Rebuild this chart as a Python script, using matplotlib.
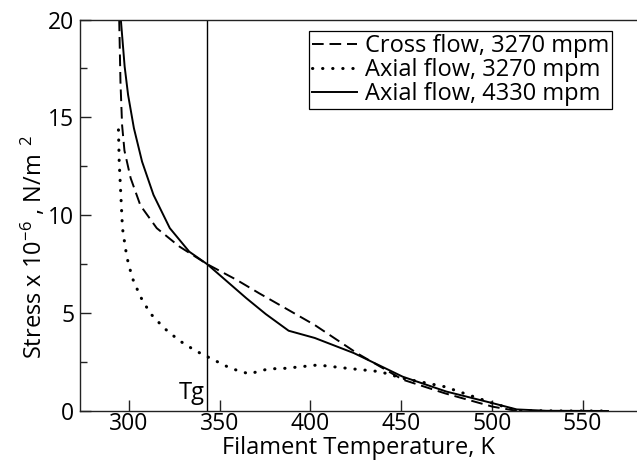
import matplotlib
matplotlib.use("Agg")
import matplotlib.pyplot as plt
from matplotlib.ticker import MultipleLocator

plt.rcParams["font.family"] = ["Open Sans", "DejaVu Sans"]
plt.rcParams["mathtext.fontset"] = "custom"
plt.rcParams["mathtext.rm"] = "Open Sans"
plt.rcParams["mathtext.it"] = "Open Sans"
plt.rcParams["mathtext.sf"] = "Open Sans"

# ── data ────────────────────────────────────────────────────────────────────
T_cross = [294.6, 295.3, 296.2, 297.5, 300.9, 306.3, 315.3, 327.8, 343.1,
           359.3, 371.8, 386.2, 402.4, 425.7, 450.9, 474.2, 500.4, 511, 516]
S_cross = [20.0, 16.8, 14.6, 13.3, 11.9, 10.5, 9.34, 8.4, 7.5,
           6.7, 6.01, 5.25, 4.39, 2.95, 1.6, 0.9, 0.22, 0.05, 0.0]

T_ax3270 = [294.2, 294.6, 295.5, 296.4, 298.2, 299.1, 301.8, 306.3, 311.7,
            319.4, 327.8, 336.8, 346.7, 356.0, 366.4, 371.8, 377.2, 386.2,
            404.1, 420.3, 438.3, 450.9, 474.0, 500.4, 514.0, 540.0, 564.0]
S_ax3270 = [14.36, 12.74, 11.04, 9.34, 8.23, 7.76, 6.8, 5.84, 4.99,
            4.23, 3.59, 3.07, 2.61, 2.18, 1.89, 2.04, 2.15, 2.18,
            2.35, 2.18, 2.01, 1.67, 1.24, 0.4, 0.02, 0.0, 0.0]

T_ax4330 = [295.5, 297.6, 299.5, 302.7, 307.2, 313.5, 322.5, 333.2, 343.1,
            364.7, 375.4, 388.0, 402.4, 423.9, 450.9, 475.0, 500.4, 513.7,
            530.0, 564.0]
S_ax4330 = [20.0, 17.6, 16.15, 14.45, 12.74, 11.04, 9.34, 8.14, 7.5,
            5.76, 4.95, 4.1, 3.73, 2.96, 1.75, 0.99, 0.4, 0.08,
            0.01, 0.0]

T_g = 343.0
labels = ["Cross flow, 3270 mpm", "Axial flow, 3270 mpm", "Axial flow, 4330 mpm"]

fig = plt.figure(figsize=(6.37, 4.61), dpi=100)
ax = fig.add_axes([0.1256, 0.1085, 0.8744, 0.8492])

ax.plot(T_cross, S_cross, color="black", lw=1.4, linestyle=(0, (6, 3)),
        label=labels[0])
ax.plot(T_ax3270, S_ax3270, color="black", lw=2.2, linestyle=(0, (0.1, 3.2)),
        dash_capstyle="round", label=labels[1])
ax.plot(T_ax4330, S_ax4330, color="black", lw=1.4, linestyle="-",
        label=labels[2])

ax.axvline(T_g, color="black", lw=1.0)
ax.text(T_g - 1.5, 0.3, "Tg", ha="right", va="bottom", fontsize=17)

ax.set_xlim(273, 580)
ax.set_ylim(0, 20)
ax.xaxis.set_major_locator(MultipleLocator(50))
ax.yaxis.set_major_locator(MultipleLocator(5))
ax.yaxis.set_minor_locator(MultipleLocator(2.5))
ax.tick_params(which="both", direction="in", labelsize=16.5, color="#222")
ax.tick_params(which="major", length=8, width=1.0, pad=4)
ax.tick_params(which="minor", length=5, width=1.0)
ax.tick_params(axis="x", top=False, pad=1)

ax.spines["right"].set_visible(False)
for s in ("left", "bottom", "top"):
    ax.spines[s].set_color("#222")
    ax.spines[s].set_linewidth(1.0)

xl = ax.set_xlabel("Filament Temperature, K", fontsize=17)
xl.set_verticalalignment("baseline")
ax.xaxis.set_label_coords(0.5, -0.1098)
ax.set_ylabel(r"Stress x 10$^{-6}$ , N/m$^{\;\;2}$", fontsize=17)
ax.yaxis.set_label_coords(-0.058, 0.42)

leg = ax.legend(loc="upper right", bbox_to_anchor=(0.955, 0.9706), fontsize=17,
                frameon=True, fancybox=False, framealpha=1, edgecolor="black",
                handlelength=1.9, handletextpad=0.35, borderpad=0.12,
                labelspacing=0.0, borderaxespad=0)
leg.get_frame().set_linewidth(0.9)

fig.savefig("out.png", dpi=100)
